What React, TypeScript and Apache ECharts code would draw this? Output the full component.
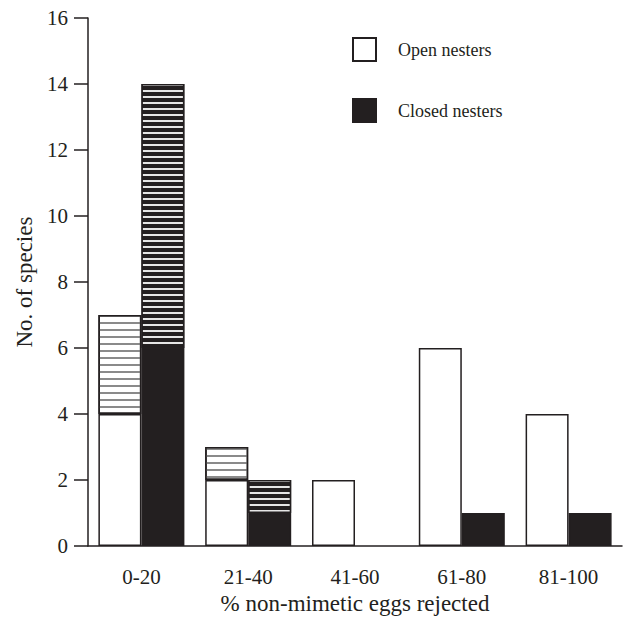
import React, { useEffect, useRef } from "react";
import * as echarts from "echarts";

const categories = ["0-20", "21-40", "41-60", "61-80", "81-100"];
const openBase = [4, 2, 2, 6, 4];
const openHatched = [3, 1, 0, 0, 0];
const closedBase = [6, 1, 0, 1, 1];
const closedHatched = [8, 1, 0, 0, 0];
const yTicks = [0, 2, 4, 6, 8, 10, 12, 14, 16];

const INK = "#231f20";
const FONT = "Liberation Serif";

const nz = (arr: number[]) => arr.map((v) => (v === 0 ? "-" : v));

export default function App() {
  const ref = useRef<HTMLDivElement>(null);
  useEffect(() => {
    if (!ref.current) return;
    const chart = echarts.init(ref.current, undefined, { renderer: "svg" });
    const barW = 43;
    chart.setOption({
      animation: false,
      backgroundColor: "#ffffff",
      textStyle: { fontFamily: FONT, color: INK },
      legend: {
        data: ["Open nesters", "Closed nesters"],
        orient: "vertical",
        left: 352,
        top: 37,
        padding: 0,
        itemWidth: 23,
        itemHeight: 23,
        itemGap: 36,
        icon: "rect",
        textStyle: { fontFamily: FONT, fontSize: 18, color: INK, padding: [0, 0, 0, 17] },
        selectedMode: false,
      },
      grid: { left: 88, right: 2, top: 18, bottom: 65, containLabel: false },
      xAxis: {
        type: "category",
        data: categories,
        name: "% non-mimetic eggs rejected",
        nameLocation: "middle",
        nameGap: 42,
        nameTextStyle: { fontFamily: FONT, fontSize: 23, color: INK },
        axisLine: { lineStyle: { color: INK, width: 1.5 } },
        axisTick: { alignWithLabel: true, length: 14, lineStyle: { color: INK, width: 1.5 } },
        axisLabel: { fontFamily: FONT, fontSize: 21, color: INK, margin: 20 },
      },
      yAxis: {
        type: "value",
        min: yTicks[0],
        max: yTicks[yTicks.length - 1],
        interval: 2,
        name: "No. of species",
        nameLocation: "middle",
        nameGap: 50,
        nameTextStyle: { fontFamily: FONT, fontSize: 23, color: INK },
        splitLine: { show: false },
        axisLine: { show: true, lineStyle: { color: INK, width: 1.5 } },
        axisTick: { show: true, length: 14, lineStyle: { color: INK, width: 1.5 } },
        axisLabel: { fontFamily: FONT, fontSize: 21, color: INK, margin: 20 },
      },
      series: [
        {
          name: "Open nesters",
          type: "bar",
          stack: "open",
          barWidth: barW,
          barGap: "0%",
          data: nz(openBase),
          itemStyle: { color: "#ffffff", borderColor: INK, borderWidth: 1.5 },
        },
        {
          name: "Open nesters (hatched)",
          type: "bar",
          stack: "open",
          barWidth: barW,
          barGap: "0%",
          data: nz(openHatched),
          itemStyle: {
            color: "#ffffff",
            borderColor: INK,
            borderWidth: 1.5,
            decal: {
              symbol: "rect",
              symbolSize: 1,
              color: "#8a8a8a",
              dashArrayX: [1, 0],
              dashArrayY: [1.2, 4.6],
              rotation: 0,
            },
          },
        },
        {
          name: "Closed nesters",
          type: "bar",
          stack: "closed",
          barWidth: barW,
          barGap: "0%",
          data: nz(closedBase),
          itemStyle: { color: INK, borderColor: INK, borderWidth: 1.5 },
        },
        {
          name: "Closed nesters (hatched)",
          type: "bar",
          stack: "closed",
          barWidth: barW,
          barGap: "0%",
          data: nz(closedHatched),
          itemStyle: {
            color: INK,
            borderColor: INK,
            borderWidth: 1.5,
            decal: {
              symbol: "rect",
              symbolSize: 1,
              color: "#e6e6e6",
              dashArrayX: [1, 0],
              dashArrayY: [2, 3.7],
              rotation: 0,
            },
          },
        },
      ],
    });
    return () => chart.dispose();
  }, []);
  return <div ref={ref} style={{ width: 624, height: 620, position: "absolute", left: 0, top: 0 }} />;
}
